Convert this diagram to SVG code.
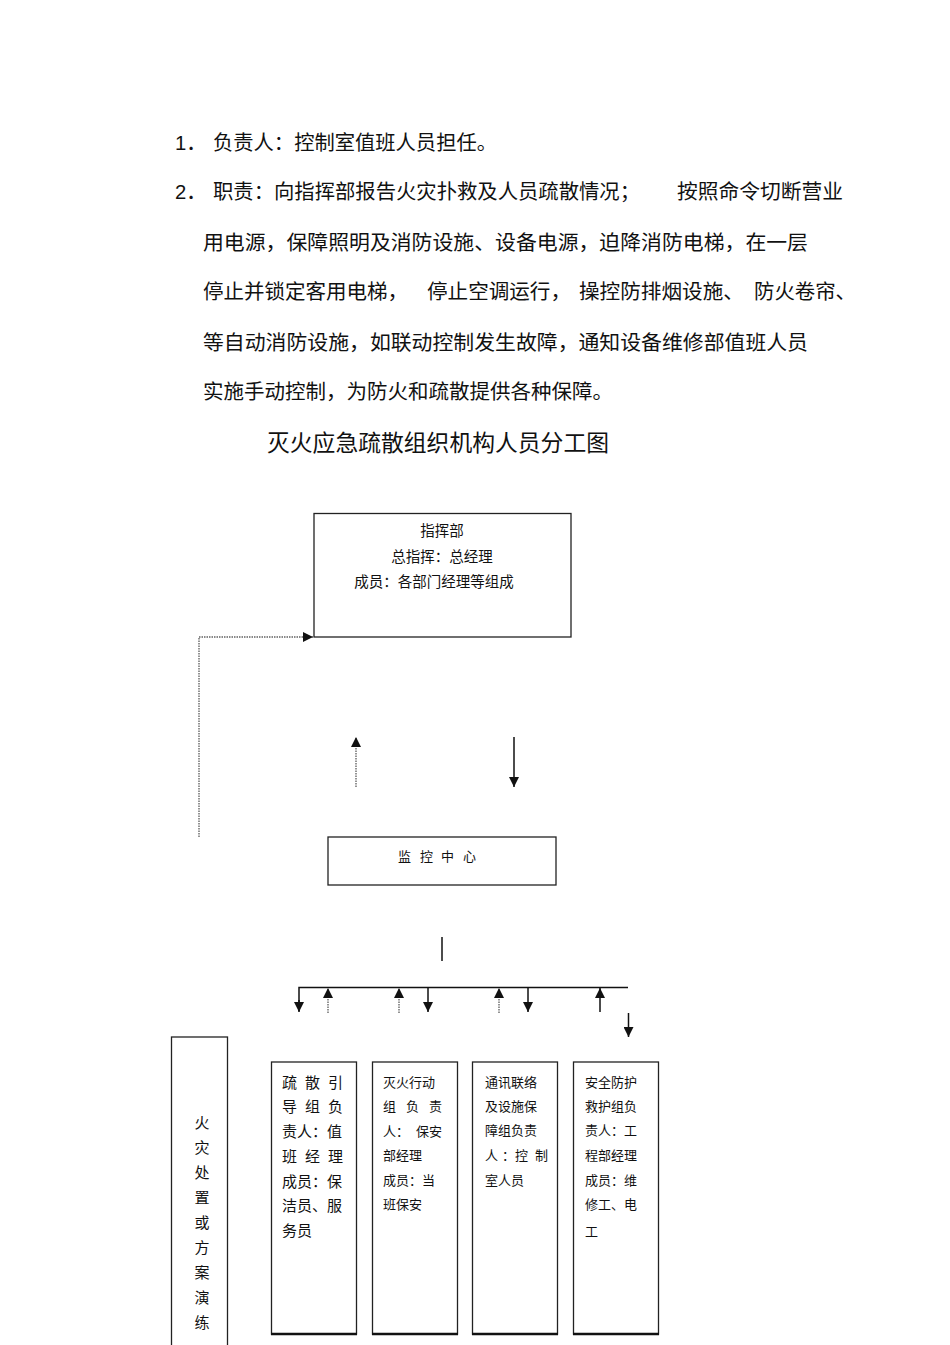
<svg xmlns="http://www.w3.org/2000/svg" width="950" height="1345" viewBox="0 0 950 1345">
<defs>
<style>
text{font-family:"Liberation Sans","Noto Sans CJK SC",sans-serif;fill:#111}
.p{font-size:20.3px}
.t{font-size:22.8px}
.n{font-size:14.5px}
.b15{font-size:15px}
.b13{font-size:13px}
.box{fill:#fff;stroke:#222;stroke-width:1.3}
.solid{stroke:#111;stroke-width:1.5;fill:none}
.dot{stroke:#888;stroke-width:1.8;stroke-dasharray:1.5 1;fill:none}
.bot{stroke:#111;stroke-width:2.4}
</style>
<marker id="ah" viewBox="0 0 10 10" refX="10" refY="5" markerWidth="11" markerHeight="10" markerUnits="userSpaceOnUse" orient="auto"><path d="M0,0L10,5L0,10z" fill="#111"/></marker>
</defs>
<rect width="950" height="1345" fill="#fff"/>
<g id="paragraph">
<text class="p" x="175" y="150">1．</text>
<text class="p" x="213" y="150" textLength="284" lengthAdjust="spacingAndGlyphs">负责人：控制室值班人员担任。</text>
<text class="p" x="175" y="199">2．</text>
<text class="p" x="213" y="199" textLength="427" lengthAdjust="spacingAndGlyphs">职责：向指挥部报告火灾扑救及人员疏散情况；</text>
<text class="p" x="677" y="199" textLength="166" lengthAdjust="spacingAndGlyphs">按照命令切断营业</text>
<text class="p" x="203" y="250" textLength="605" lengthAdjust="spacingAndGlyphs">用电源，保障照明及消防设施、设备电源，迫降消防电梯，在一层</text>
<text class="p" x="203" y="299" textLength="205" lengthAdjust="spacingAndGlyphs">停止并锁定客用电梯，</text>
<text class="p" x="427" y="299" textLength="144" lengthAdjust="spacingAndGlyphs">停止空调运行，</text>
<text class="p" x="579" y="299" textLength="165" lengthAdjust="spacingAndGlyphs">操控防排烟设施、</text>
<text class="p" x="754" y="299" textLength="102" lengthAdjust="spacingAndGlyphs">防火卷帘、</text>
<text class="p" x="203" y="350" textLength="605" lengthAdjust="spacingAndGlyphs">等自动消防设施，如联动控制发生故障，通知设备维修部值班人员</text>
<text class="p" x="203" y="399" textLength="410" lengthAdjust="spacingAndGlyphs">实施手动控制，为防火和疏散提供各种保障。</text>
<text class="t" x="267" y="451" textLength="342" lengthAdjust="spacingAndGlyphs">灭火应急疏散组织机构人员分工图</text>
</g>
<g id="connectors">
<path class="dot" d="M199,837V637H313" marker-end="url(#ah)"/>
<path class="dot" d="M356,787V737" marker-end="url(#ah)"/>
<path class="solid" d="M514,737V787" marker-end="url(#ah)"/>
<path class="solid" d="M442,937V961"/>
<path class="solid" d="M299,1011V987.5H628"/>
<path class="solid" d="M299,1000V1012" marker-end="url(#ah)"/>
<path class="dot" d="M328,1013V988" marker-end="url(#ah)"/>
<path class="dot" d="M399,1013V988" marker-end="url(#ah)"/>
<path class="solid" d="M428,988V1012" marker-end="url(#ah)"/>
<path class="dot" d="M499,1013V988" marker-end="url(#ah)"/>
<path class="solid" d="M528,988V1012" marker-end="url(#ah)"/>
<path class="solid" d="M600,1012V988" marker-end="url(#ah)"/>
<path class="solid" d="M628.5,1013V1037" marker-end="url(#ah)"/>
</g>
<g id="node-hq">
<rect class="box" x="314" y="513.5" width="257" height="123.5"/>
<text class="n" x="442" y="536" text-anchor="middle">指挥部</text>
<text class="n" x="442" y="562" text-anchor="middle">总指挥：总经理</text>
<text class="n" x="434" y="587" text-anchor="middle">成员：各部门经理等组成</text>
</g>
<g id="node-monitor">
<rect class="box" x="328" y="837" width="228" height="48"/>
<text class="b13" x="398 420 441 463" y="861">监控中心</text>
</g>
<g id="node-drill">
<rect class="box" x="171.5" y="1037" width="56" height="320"/>
<text class="b15" x="202" text-anchor="middle"><tspan x="202" y="1128">火</tspan><tspan x="202" y="1153">灾</tspan><tspan x="202" y="1178">处</tspan><tspan x="202" y="1203">置</tspan><tspan x="202" y="1228">或</tspan><tspan x="202" y="1253">方</tspan><tspan x="202" y="1278">案</tspan><tspan x="202" y="1303">演</tspan><tspan x="202" y="1328">练</tspan></text>
</g>
<g id="node-evac">
<rect class="box" x="271.5" y="1062" width="85" height="272"/>
<line class="bot" x1="271" y1="1334" x2="357" y2="1334"/>
<text class="b15" x="282 305 328" y="1087.5">疏散引</text>
<text class="b15" x="282 305 328" y="1112">导组负</text>
<text class="b15" x="282" y="1137">责人：值</text>
<text class="b15" x="282 305 328" y="1162">班经理</text>
<text class="b15" x="282" y="1187">成员：保</text>
<text class="b15" x="282" y="1211">洁员、服</text>
<text class="b15" x="282" y="1236">务员</text>
</g>
<g id="node-fire">
<rect class="box" x="372.5" y="1062" width="85" height="272"/>
<line class="bot" x1="372" y1="1334" x2="458" y2="1334"/>
<text class="b13" x="383" y="1086.5">灭火行动</text>
<text class="b13" x="383 406 429" y="1111">组负责</text>
<text class="b13" x="383 396 416 429" y="1136">人：保安</text>
<text class="b13" x="383" y="1160">部经理</text>
<text class="b13" x="383" y="1185">成员：当</text>
<text class="b13" x="383" y="1209">班保安</text>
</g>
<g id="node-comm">
<rect class="box" x="472.5" y="1062" width="85" height="272"/>
<line class="bot" x1="472" y1="1334" x2="558" y2="1334"/>
<text class="b13" x="485" y="1086.5">通讯联络</text>
<text class="b13" x="485" y="1111">及设施保</text>
<text class="b13" x="485" y="1135">障组负责</text>
<text class="b13" x="485 502 515 535" y="1160">人：控制</text>
<text class="b13" x="485" y="1185">室人员</text>
</g>
<g id="node-safety">
<rect class="box" x="573.5" y="1062" width="85" height="272"/>
<line class="bot" x1="573" y1="1334" x2="659" y2="1334"/>
<text class="b13" x="585" y="1086.5">安全防护</text>
<text class="b13" x="585" y="1111">救护组负</text>
<text class="b13" x="585" y="1135">责人：工</text>
<text class="b13" x="585" y="1160">程部经理</text>
<text class="b13" x="585" y="1185">成员：维</text>
<text class="b13" x="585" y="1209">修工、电</text>
<text class="b13" x="585" y="1236">工</text>
</g>
</svg>
